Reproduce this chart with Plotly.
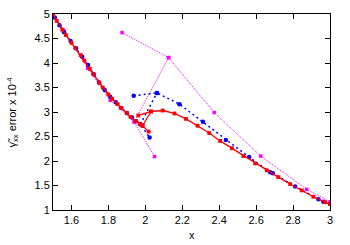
import plotly.graph_objects as go

# ---- data ----
# red series: main descending branch, lower end point, link, right branch
red_main_x = [1.50, 1.52, 1.55, 1.57, 1.60, 1.62, 1.65, 1.67, 1.70, 1.72, 1.75, 1.77,
              1.80, 1.82, 1.85, 1.87, 1.90, 1.92, 1.95, 1.97, 1.985, 2.018]
red_main_y = [5.00, 4.86, 4.68, 4.57, 4.41, 4.31, 4.16, 4.05, 3.88, 3.77, 3.60, 3.50,
              3.36, 3.27, 3.16, 3.08, 2.98, 2.90, 2.81, 2.76, 2.72, 2.60]
red_link_x = [1.985, 2.031]
red_link_y = [2.72, 3.01]
red_right_x = [1.962, 2.031, 2.094, 2.158, 2.22, 2.283, 2.346, 2.405, 2.469, 2.531,
               2.595, 2.658, 2.72, 2.784, 2.847, 2.91, 2.973, 3.0]
red_right_y = [2.93, 3.01, 3.03, 2.97, 2.86, 2.72, 2.57, 2.41, 2.26, 2.10,
               1.95, 1.81, 1.67, 1.53, 1.40, 1.27, 1.16, 1.12]

# blue series
blue_main_x = [1.51, 1.535, 1.56, 1.595, 1.625, 1.658, 1.69, 1.72, 1.75, 1.78, 1.81,
               1.84, 1.87, 1.90, 1.928, 1.95, 1.973, 2.023]
blue_main_y = [4.93, 4.77, 4.63, 4.45, 4.30, 4.13, 3.96, 3.77, 3.60, 3.45, 3.31,
               3.20, 3.08, 2.98, 2.89, 2.81, 2.75, 2.48]
blue_link_x = [1.973, 2.063]
blue_link_y = [2.75, 3.39]
blue_right_x = [1.937, 2.063, 2.185, 2.312, 2.436, 2.562, 2.676, 2.69, 2.811, 2.937, 2.964, 3.0]
blue_right_y = [3.33, 3.39, 3.16, 2.80, 2.43, 2.08, 1.77, 1.75, 1.48, 1.22, 1.17, 1.13]

# magenta series
mag_main_x = [1.50, 1.558, 1.688, 1.81, 1.94, 2.05]
mag_main_y = [5.00, 4.67, 3.89, 3.24, 2.80, 2.09]
mag_link_x = [1.94, 2.126]
mag_link_y = [2.80, 4.11]
mag_right_x = [1.874, 2.126, 2.373, 2.625, 2.874, 3.0]
mag_right_y = [4.62, 4.11, 2.99, 2.10, 1.42, 1.17]

x_ticks = [1.6, 1.8, 2.0, 2.2, 2.4, 2.6, 2.8, 3.0]
x_tick_text = ["1.6", "1.8", "2", "2.2", "2.4", "2.6", "2.8", "3"]
y_ticks = [1, 1.5, 2, 2.5, 3, 3.5, 4, 4.5, 5]
y_tick_text = ["1", "1.5", "2", "2.5", "3", "3.5", "4", "4.5", "5"]
x_title = "x"
y_title = "γ̃<sub>xx</sub> error x 10<sup>-4</sup>"


def join(*parts):
    out = []
    for i, p in enumerate(parts):
        if i:
            out.append(None)
        out.extend(p)
    return out


fig = go.Figure()

fig.add_trace(go.Scatter(
    x=join(mag_main_x, mag_link_x, mag_right_x),
    y=join(mag_main_y, mag_link_y, mag_right_y),
    mode="lines+markers",
    line=dict(color="#ff00ff", width=1, dash="1px,1px"),
    marker=dict(color="#ff00ff", size=3.5, symbol="square"),
    connectgaps=False, showlegend=False))

fig.add_trace(go.Scatter(
    x=join(blue_main_x, blue_link_x, blue_right_x),
    y=join(blue_main_y, blue_link_y, blue_right_y),
    mode="lines+markers",
    line=dict(color="#0000ff", width=1.5, dash="2px,3px"),
    marker=dict(color="#0000ff", size=4.5, symbol="circle"),
    connectgaps=False, showlegend=False))

fig.add_trace(go.Scatter(
    x=join(red_main_x, red_link_x, red_right_x),
    y=join(red_main_y, red_link_y, red_right_y),
    mode="lines+markers",
    line=dict(color="#ff0000", width=1.3),
    marker=dict(color="#ff0000", size=3.8, symbol="square"),
    connectgaps=False, showlegend=False))

axis_common = dict(showline=True, linecolor="black", linewidth=1, mirror="ticks",
                   ticks="inside", ticklen=5, tickcolor="black", showgrid=False,
                   zeroline=False, tickfont=dict(size=11, color="black"))

fig.update_layout(
    width=350, height=245,
    margin=dict(l=53, r=20, t=14, b=35, autoexpand=False),
    paper_bgcolor="white", plot_bgcolor="white",
    font=dict(family="Liberation Sans, Arial, sans-serif", size=11, color="black"),
    xaxis=dict(range=[1.5, 3.0], tickvals=x_ticks, ticktext=x_tick_text, **axis_common),
    yaxis=dict(range=[1, 5], tickvals=y_ticks, ticktext=y_tick_text, **axis_common),
    annotations=[
        dict(text=x_title, xref="paper", yref="paper", x=0.5, y=-0.128,
             xanchor="center", yanchor="middle", showarrow=False, font=dict(size=11)),
        dict(text=y_title, xref="paper", yref="paper", x=-0.146, y=0.5, textangle=-90,
             xanchor="center", yanchor="middle", showarrow=False, font=dict(size=11)),
    ],
)

fig.write_html("out.html", config={"displayModeBar": False},
               post_script="document.body.style.margin='0';document.body.style.padding='0';")
